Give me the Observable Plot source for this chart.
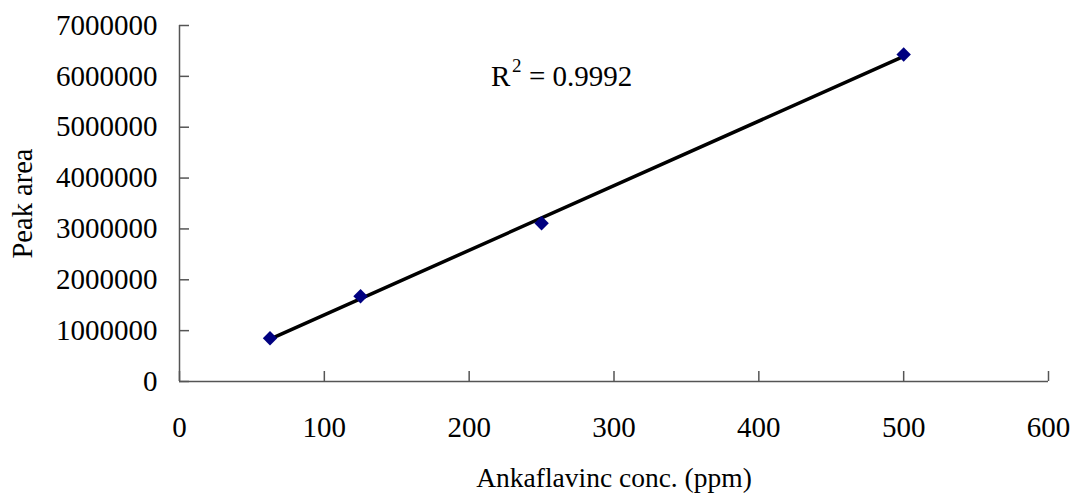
<!DOCTYPE html>
<html>
<head>
<meta charset="utf-8">
<script src="https://cdn.jsdelivr.net/npm/d3@7"></script>
<script src="https://cdn.jsdelivr.net/npm/@observablehq/plot@0.6"></script>
<style>
  html, body { margin: 0; padding: 0; background: #fff; }
</style>
</head>
<body>
<div id="chart"></div>
<script>
// Calibration standards: ankaflavin concentration (ppm) vs. HPLC peak area
const concentration = [62.5, 125, 250, 500];
const peakArea = [851000, 1677000, 3110000, 6430000];

const xTicks = [0, 100, 200, 300, 400, 500, 600];
const yTicks = [0, 1000000, 2000000, 3000000, 4000000, 5000000, 6000000, 7000000];

// coefficient of determination of the linear fit, written as R² = value
const rSquaredValue = "0.9992";
const rSquaredAt = {x: 215, y: 6000000};

const xTitle = "Ankaflavinc conc. (ppm)";
const yTitle = "Peak area";

const points = concentration.map((c, i) => ({conc: c, area: peakArea[i]}));

const axisColor = "#555";
const font = "'Liberation Serif', 'Times New Roman', serif";

const chart = Plot.plot({
  width: 1077,
  height: 497,
  marginLeft: 179,
  marginRight: 29,
  marginTop: 25,
  marginBottom: 116,
  style: {
    fontFamily: font,
    fontSize: "29px",
    color: "#000",
    background: "#fff"
  },
  x: {domain: [0, 600]},
  y: {domain: [0, 7000000]},
  marks: [
    // axis lines
    Plot.ruleX([0], {stroke: axisColor, strokeWidth: 1.5}),
    Plot.ruleY([0], {stroke: axisColor, strokeWidth: 1.5}),
    // inward ticks with labels outside
    Plot.axisY(yTicks, {
      tickSize: -10, tickPadding: 32, stroke: axisColor, strokeWidth: 1.5,
      tickFormat: d => String(d), label: null, fontSize: 29
    }),
    Plot.axisX(xTicks, {
      tickSize: -10, tickPadding: 45, stroke: axisColor, strokeWidth: 1.5,
      tickFormat: d => String(d), label: null, fontSize: 29
    }),
    // axis titles
    Plot.text([yTitle], {
      frameAnchor: "left", textAnchor: "middle", lineAnchor: "middle",
      rotate: -90, dx: -157, fontSize: 28.5, fill: "#000"
    }),
    Plot.text([xTitle], {
      frameAnchor: "bottom", textAnchor: "middle", lineAnchor: "middle",
      dy: 97, fontSize: 27.5, fill: "#000"
    }),
    // least-squares trend line
    Plot.linearRegressionY(points, {x: "conc", y: "area", ci: 0, stroke: "#000", strokeWidth: 3.5}),
    // measured standards
    Plot.dot(points, {x: "conc", y: "area", symbol: "diamond2", r: 6.5, fill: "#000080", stroke: "none"}),
    // fit quality: R, superscript 2, then "= value"
    Plot.text(["R"], {
      x: () => rSquaredAt.x, y: () => rSquaredAt.y,
      textAnchor: "start", fontSize: 29, fill: "#000"
    }),
    Plot.text(["2"], {
      x: () => rSquaredAt.x, y: () => rSquaredAt.y,
      textAnchor: "start", dx: 21, dy: -10, fontSize: 19, fill: "#000"
    }),
    Plot.text([`= ${rSquaredValue}`], {
      x: () => rSquaredAt.x, y: () => rSquaredAt.y,
      textAnchor: "start", dx: 38, fontSize: 29, fill: "#000"
    })
  ]
});

document.getElementById("chart").appendChild(chart);
</script>
</body>
</html>
